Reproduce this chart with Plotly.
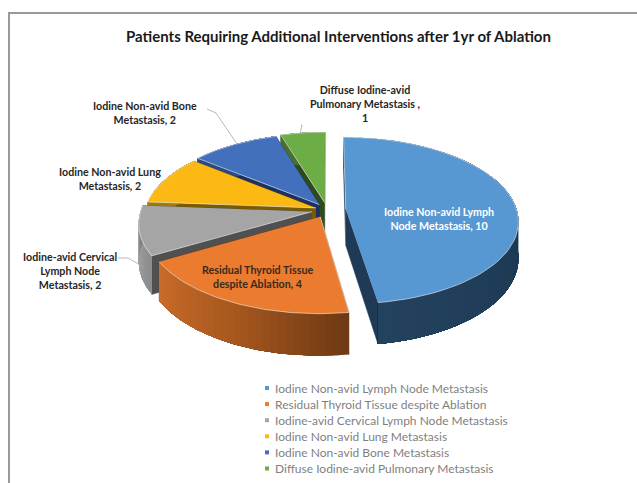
import numpy as np
import plotly.graph_objects as go

categories = ["Iodine Non-avid Lymph Node Metastasis", "Residual Thyroid Tissue despite Ablation",
              "Iodine-avid Cervical Lymph Node Metastasis", "Iodine Non-avid Lung Metastasis",
              "Iodine Non-avid Bone Metastasis", "Diffuse Iodine-avid Pulmonary Metastasis"]
values = [10, 4, 2, 2, 2, 1]
explode = [0.11, 0.09, 0.09, 0.07, 0.08, 0.09]
top_colors = ["#5898D2", "#EB7B2E", "#A5A5A5", "#FDB913", "#4270BC", "#6CAD45"]
edge_colors = ["#1F3A57", "#6B3412", "#505050", "#7A5C00", "#1C3160", "#2F4A1E"]
wall_start = ["#1E3E5C", "#703A14", "#8C8C8C", "#A67C00", "#2C4A80", "#4A7030"]
wall_mid = ["#1B3752", "#A9591F", "#A0A0A0", "#A67C00", "#2C4A80", "#4A7030"]
wall_end = ["#24435F", "#CB6C2B", "#7A7A7A", "#A67C00", "#2C4A80", "#4A7030"]
title = "Patients Requiring Additional Interventions after 1yr of Ablation"

CX, CY, RX, RY, P, DEPTH = 327, 210, 171, 82, 0.134, 36


def project(u, v, h=0.0):
    s = 1 / (1 - P * v)
    return CX + RX * u * s, CY + RY * v * s + DEPTH * h * s


def hexrgb(c):
    return np.array([int(c[i:i + 2], 16) for i in (1, 3, 5)], float)


def mix(a, b, t):
    m = hexrgb(a) * (1 - t) + hexrgb(b) * t
    return "rgb(%d,%d,%d)" % tuple(m)


def poly(fig, xs, ys, fill, line=None, w=0.0):
    fig.add_trace(go.Scatter(x=list(xs), y=list(ys), mode="lines", fill="toself", fillcolor=fill,
                             line=dict(color=line or fill, width=w), hoverinfo="skip", showlegend=False))


fig = go.Figure()
total = sum(values)
edges = np.concatenate([[0], np.cumsum(values)]) / total * 2 * np.pi
order = [5, 4, 3, 2, 1, 0]
for i in order:
    a0, a1 = edges[i], edges[i + 1]
    b = (a0 + a1) / 2
    au, av = explode[i] * np.sin(b), -explode[i] * np.cos(b)
    th = np.linspace(a0, a1, 61)
    u = au + np.sin(th)
    v = av - np.cos(th)
    # radial walls
    for a in (a0, a1):
        eu, ev = au + np.sin(a), av - np.cos(a)
        pts = [project(au, av), project(eu, ev), project(eu, ev, 1), project(au, av, 1)]
        poly(fig, [p[0] for p in pts], [p[1] for p in pts], edge_colors[i], w=0.5)
    # outer wall, shaded: each band runs to the arc's end and is overpainted by the next
    for k in range(0, len(th) - 1, 2):
        t = k / (len(th) - 2)
        col = mix(wall_start[i], wall_mid[i], t * 2) if t < .5 else mix(wall_mid[i], wall_end[i], t * 2 - 1)
        tx, ty = project(u[k:], v[k:])
        bx, by = project(u[k:], v[k:], 1)
        poly(fig, np.concatenate([tx, bx[::-1]]), np.concatenate([ty, by[::-1]]), col)
    xs, ys = project(u, v)
    xs = np.concatenate([[project(au, av)[0]], xs])
    ys = np.concatenate([[project(au, av)[1]], ys])
    poly(fig, xs, ys, top_colors[i], "rgba(235,240,245,0.75)", 0.8)

# Leader lines
leaders = [([207, 216, 237], [109, 113, 144]), ([301, 302, 300], [125, 125, 134]), ([118, 128, 144], [258, 258, 267])]
for lx, ly in leaders:
    fig.add_trace(go.Scatter(x=lx, y=ly, mode="lines", line=dict(color="#A6A6A6", width=0.8),
                             hoverinfo="skip", showlegend=False))

FONT = "Lato"
DARK = "#262626"
labels = [
    (439, 218, "Iodine Non-avid Lymph<br>Node Metastasis, 10", "#FFFFFF"),
    (257, 276, "Residual Thyroid Tissue<br>despite Ablation, 4", "#3A2A1E"),
    (70, 270, "Iodine-avid Cervical<br>Lymph Node<br>Metastasis, 2", DARK),
    (110, 178, "Iodine Non-avid Lung<br>Metastasis, 2", DARK),
    (145, 112, "Iodine Non-avid Bone<br>Metastasis, 2", DARK),
    (365, 103, "Diffuse Iodine-avid<br>Pulmonary Metastasis ,<br>1", DARK),
]
for x, y, t, c in labels:
    fig.add_annotation(x=x, y=y, text="<b>%s</b>" % t, showarrow=False, xanchor="center", yanchor="middle",
                       font=dict(family=FONT, size=10.7, color=c))

fig.add_annotation(x=338.5, y=36, text="<b>%s</b>" % title, showarrow=False, xanchor="center", yanchor="middle",
                   font=dict(family=FONT, size=15, color="#1A1A1A"))

# Legend
for k, name in enumerate(categories):
    y = 388 + k * 16.1
    fig.add_trace(go.Scatter(x=[267], y=[y], mode="markers", marker=dict(symbol="square", size=4, color=top_colors[k]),
                             hoverinfo="skip", showlegend=False))
    fig.add_annotation(x=272.5, y=y, text=name, showarrow=False, xanchor="left", yanchor="middle",
                       font=dict(family=FONT, size=12, color="#7F7F7F"))

# Chart frame
fig.add_shape(type="rect", x0=9, y0=13, x1=660, y1=520, line=dict(color="#9A9A9A", width=2), fillcolor="rgba(0,0,0,0)")

fig.update_layout(width=637, height=483, margin=dict(l=0, r=0, t=0, b=0), autosize=False,
                  plot_bgcolor="white", paper_bgcolor="white", showlegend=False,
                  xaxis=dict(range=[0, 637], visible=False, fixedrange=True),
                  yaxis=dict(range=[483, 0], visible=False, fixedrange=True))
fig.write_html("out.html", config={"displayModeBar": False},
               post_script="document.body.style.margin='0';")
